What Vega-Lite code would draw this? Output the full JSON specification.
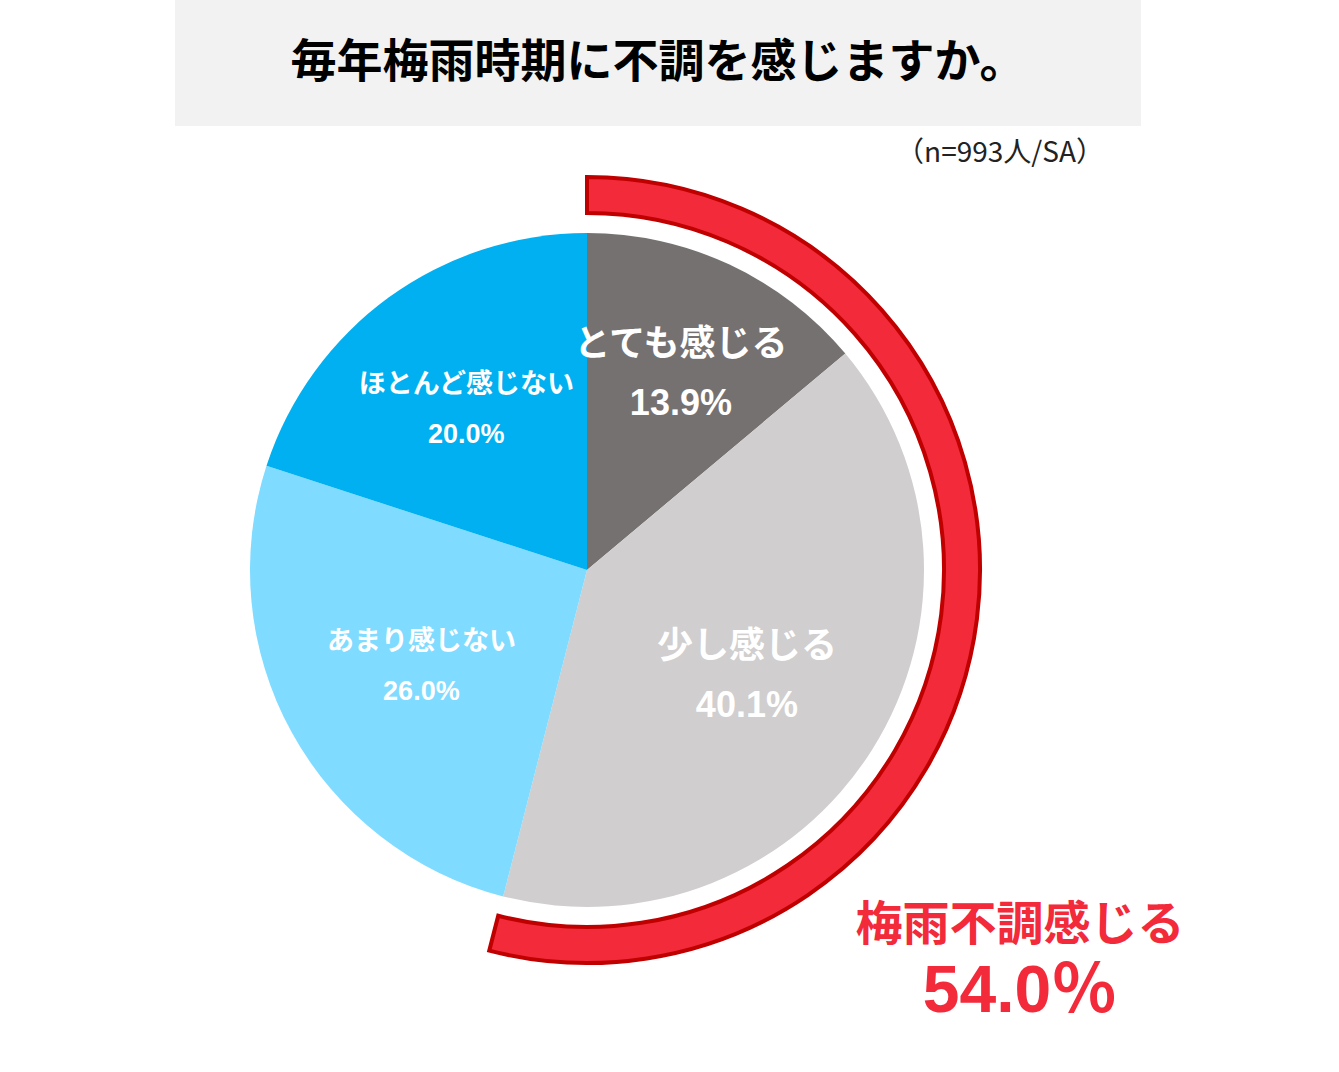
{
  "$schema": "https://vega.github.io/schema/vega-lite/v6.json",
  "background": "white",
  "padding": {"left": 175, "top": 0, "right": 10, "bottom": 10},
  "config": {"view": {"stroke": null}},
  "datasets": {
    "answers": [
      {"id": 1, "answer": "とても感じる", "share": 0.139},
      {"id": 2, "answer": "少し感じる", "share": 0.401},
      {"id": 3, "answer": "あまり感じない", "share": 0.26},
      {"id": 4, "answer": "ほとんど感じない", "share": 0.2}
    ]
  },
  "bounds": "flush",
  "spacing": 0,
  "vconcat": [
    {
      "width": 966,
      "height": 126,
      "view": {"fill": "#f2f2f2", "stroke": null},
      "title": {
        "text": "（n=993人/SA）",
        "orient": "bottom",
        "anchor": "end",
        "frame": "group",
        "align": "right",
        "dx": -37,
        "offset": 14,
        "font": "Noto Sans CJK JP",
        "fontSize": 28,
        "fontWeight": "normal",
        "color": "#222222"
      },
      "data": {"values": [{"q": "毎年梅雨時期に不調を感じますか。"}]},
      "mark": {
        "type": "text",
        "font": "Noto Sans CJK JP",
        "fontSize": 46,
        "fontWeight": "bold",
        "color": "#000000"
      },
      "encoding": {"text": {"field": "q"}}
    },
    {
      "width": 824,
      "height": 888,
      "title": {
        "text": "梅雨不調感じる",
        "subtitle": "54.0％",
        "orient": "bottom",
        "anchor": "end",
        "frame": "group",
        "align": "center",
        "dx": 21,
        "offset": -111,
        "font": "Noto Sans CJK JP",
        "fontSize": 47,
        "fontWeight": "bold",
        "color": "#f22a3a",
        "subtitleFont": "Liberation Sans, Noto Sans CJK JP",
        "subtitleFontSize": 66,
        "subtitleFontWeight": "bold",
        "subtitleColor": "#f22a3a",
        "subtitlePadding": 10
      },
      "layer": [
        {
          "data": {"values": [{"group": "梅雨不調感じる", "share": 0.54}]},
          "mark": {
            "type": "arc",
            "outerRadius": 393,
            "innerRadius": 357,
            "fill": "#f22a3a",
            "stroke": "#c00000",
            "strokeWidth": 4
          },
          "encoding": {
            "theta": {"field": "share", "type": "quantitative", "stack": true, "scale": {"domain": [0, 1]}}
          }
        },
        {
          "data": {"name": "answers"},
          "mark": {"type": "arc", "outerRadius": 337},
          "encoding": {
            "theta": {"field": "share", "type": "quantitative", "stack": true, "scale": {"domain": [0, 1]}},
            "color": {
              "field": "answer",
              "type": "nominal",
              "scale": {
                "domain": ["とても感じる", "少し感じる", "あまり感じない", "ほとんど感じない"],
                "range": ["#767171", "#d0cece", "#7fdbff", "#00b0f0"]
              },
              "legend": null
            },
            "order": {"field": "id", "type": "quantitative"}
          }
        },
        {
          "data": {"name": "answers"},
          "mark": {
            "type": "text",
            "font": "Noto Sans CJK JP",
            "fontWeight": "bold",
            "fill": "white",
            "baseline": "bottom",
            "dy": -5
          },
          "encoding": {
            "theta": {"field": "share", "type": "quantitative", "stack": true, "scale": {"domain": [0, 1]}},
            "radius": {
              "field": "share",
              "type": "quantitative",
              "scale": {"type": "linear", "zero": false, "clamp": true, "domain": [0.139, 0.26], "range": [222, 189]}
            },
            "text": {"field": "answer"},
            "size": {
              "field": "answer",
              "type": "nominal",
              "scale": {
                "type": "ordinal",
                "domain": ["とても感じる", "少し感じる", "あまり感じない", "ほとんど感じない"],
                "range": [36, 36, 27, 27]
              },
              "legend": null
            },
            "order": {"field": "id", "type": "quantitative"}
          }
        },
        {
          "data": {"name": "answers"},
          "mark": {
            "type": "text",
            "font": "Liberation Sans",
            "fontWeight": "bold",
            "fill": "white",
            "baseline": "top",
            "dy": 18
          },
          "encoding": {
            "theta": {"field": "share", "type": "quantitative", "stack": true, "scale": {"domain": [0, 1]}},
            "radius": {
              "field": "share",
              "type": "quantitative",
              "scale": {"type": "linear", "zero": false, "clamp": true, "domain": [0.139, 0.26], "range": [222, 189]}
            },
            "text": {"field": "share", "format": ".1%"},
            "size": {
              "field": "answer",
              "type": "nominal",
              "scale": {
                "type": "ordinal",
                "domain": ["とても感じる", "少し感じる", "あまり感じない", "ほとんど感じない"],
                "range": [35, 35, 26, 26]
              },
              "legend": null
            },
            "order": {"field": "id", "type": "quantitative"}
          }
        }
      ]
    }
  ]
}
